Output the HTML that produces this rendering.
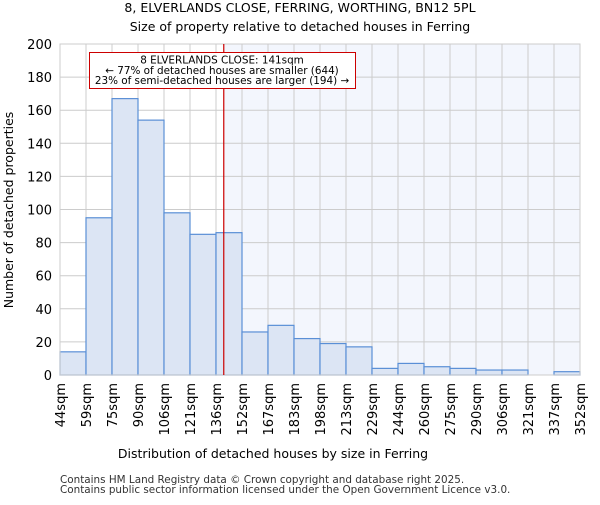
<!DOCTYPE html>
<html><head><meta charset="utf-8"><style>body{margin:0;background:#fff}text{font-family:"DejaVu Sans","Liberation Sans",sans-serif}</style></head>
<body>
<svg id="c" width="600" height="500" xmlns="http://www.w3.org/2000/svg">
<text x="300" y="12" text-anchor="middle" font-size="12.5">8, ELVERLANDS CLOSE, FERRING, WORTHING, BN12 5PL</text>
<text x="300" y="31" text-anchor="middle" font-size="12.5">Size of property relative to detached houses in Ferring</text>
<g id="plot"></g>
<text x="273" y="458" text-anchor="middle" font-size="12.5">Distribution of detached houses by size in Ferring</text>
<text transform="translate(13,210) rotate(-90)" text-anchor="middle" font-size="12.5">Number of detached properties</text>
<text x="60" y="483" font-size="10.4" fill="#333">Contains HM Land Registry data © Crown copyright and database right 2025.</text>
<text x="60" y="493" font-size="10.4" fill="#333">Contains public sector information licensed under the Open Government Licence v3.0.</text>
</svg>
<script>
const categories=["44sqm","59sqm","75sqm","90sqm","106sqm","121sqm","136sqm","152sqm","167sqm","183sqm","198sqm","213sqm","229sqm","244sqm","260sqm","275sqm","290sqm","306sqm","321sqm","337sqm","352sqm"];
const values=[14,95,167,154,98,85,86,26,30,22,19,17,4,7,5,4,3,3,0,2];
const yTicks=[0,20,40,60,80,100,120,140,160,180,200];
const binStart=44, binWidth=15.4;
const propertySize=141;
const NS="http://www.w3.org/2000/svg";
const X0=60,X1=580,Y0=375,Y1=44;
const xs=i=>X0+(X1-X0)*i/values.length;
const xv=v=>X0+(X1-X0)*(v-binStart)/(binWidth*values.length);
const ys=v=>Y0-(Y0-Y1)*v/200;
const g=document.getElementById('plot');
function mk(t,a){const e=document.createElementNS(NS,t);for(const k in a)e.setAttribute(k,a[k]);g.appendChild(e);return e;}
const px=xv(propertySize);
let e=mk('rect',{x:px,y:Y1,width:X1-px,height:Y0-Y1,fill:'#f3f6fd'});


yTicks.forEach(t=>{let l=mk('line',{x1:X0,x2:X1,y1:ys(t),y2:ys(t),stroke:'#cccccc'});


let tx=mk('text',{x:X0-8,y:ys(t)+5,'text-anchor':'end','font-size':13});tx.textContent=t;

});
categories.forEach((c,i)=>{let l=mk('line',{x1:xs(i),x2:xs(i),y1:Y1,y2:Y0,stroke:'#cccccc'});


let tx=mk('text',{transform:`translate(${xs(i)+5},${Y0+8}) rotate(-90)`,'text-anchor':'end','font-size':13});tx.textContent=c;

});
values.forEach((v,i)=>{if(v<=0)return;let r=mk('rect',{x:xs(i),y:ys(v),width:xs(i+1)-xs(i),height:Y0-ys(v),fill:'#dce5f4',stroke:'#5a8fd6','stroke-width':1.2});

});
let ax=mk('rect',{x:X0,y:Y1,width:X1-X0,height:Y0-Y1,fill:'none',stroke:'#cccccc'});


let rl=mk('line',{x1:px,x2:px,y1:Y1,y2:Y0,stroke:'#cc0000','stroke-width':1.2});


let box=mk('rect',{x:89.5,y:52.5,width:266,height:36,fill:'#fff',stroke:'#cc0000'});


["8 ELVERLANDS CLOSE: 141sqm","← 77% of detached houses are smaller (644)","23% of semi-detached houses are larger (194) →"].forEach((s,i)=>{let t=mk('text',{x:222,y:63.5+i*10.3,'text-anchor':'middle','font-size':10.4});t.textContent=s;

});
</script>
</body></html>
